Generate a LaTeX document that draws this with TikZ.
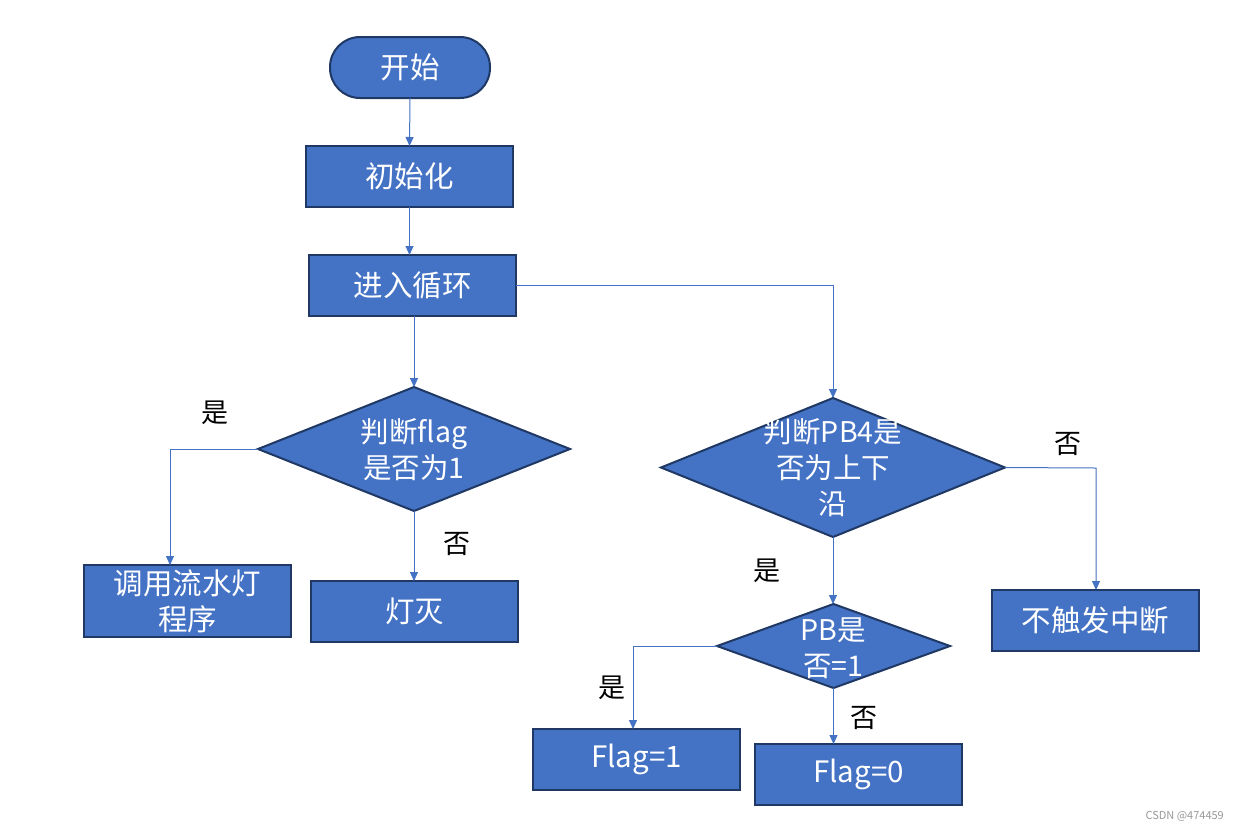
\documentclass[tikz,border=0pt]{standalone}
\usepackage{fontspec}
\setmainfont{Noto Sans CJK SC}
\usetikzlibrary{shapes.geometric,arrows.meta}
\definecolor{bfill}{HTML}{4472C4}
\definecolor{bline}{HTML}{1F3864}
\definecolor{aline}{HTML}{4472C4}
\tikzset{
  boxbase/.style={fill=bfill, draw=bline, line width=2pt, text=white, inner sep=0pt, outer sep=0pt,
    font=\fontsize{29.5}{36}\selectfont, align=center},
  procbox/.style={boxbase, rectangle, minimum width=207pt, minimum height=61pt},
  startbox/.style={boxbase, rectangle, rounded corners=30pt, minimum width=160pt, minimum height=61pt},
  decbox/.style={boxbase, diamond, aspect=2.5},
  dtext/.style={text=white, font=\fontsize{28.5}{36}\selectfont, align=center, inner sep=0pt},
  conn/.style={draw=aline, line width=1pt, -{Triangle[width=8pt,length=9pt]}},
  lab/.style={font=\fontsize{27}{30}\selectfont, text=black, inner sep=0pt}
}
\begin{document}
\begin{tikzpicture}[x=1pt,y=-1pt]
\fill[white] (0,0) rectangle (1238,831);
\path[use as bounding box] (0,0) rectangle (1238,831);

\node[startbox] (start) at (410,67.5) {开始};
\node[procbox] (init) at (409.5,176.5) {初始化};
\node[procbox] (loop) at (412.5,285.5) {进入循环};

\node[decbox, minimum width=312pt, minimum height=124pt] (d1) at (414,449) {};
\node[dtext] (d1t) at (414,450) {判断flag\\是否为1};

\node[decbox, minimum width=344pt, minimum height=139pt] (d2) at (833,467.5) {};
\node[dtext] (d2t) at (833,468) {判断PB4是\\否为上下\\沿};

\node[procbox, minimum height=72pt] (call) at (187.5,601) {调用流水灯\\程序};
\node[procbox] (off) at (414.5,611.5) {灯灭};
\node[procbox] (noint) at (1095.5,620.5) {不触发中断};

\node[decbox, minimum width=233pt, minimum height=84pt] (d3) at (833.5,646) {};
\node[dtext] (d3t) at (833.5,648) {PB是\\否=1};

\node[procbox] (f1) at (636.5,759.5) {Flag=1};
\node[procbox] (f0) at (858.5,774.5) {Flag=0};

\coordinate (c1) at (170,449);
\coordinate (c2) at (833,285.5);
\coordinate (c3) at (1096,468);
\coordinate (c4) at (633,646);

\draw[conn] (start.south) -- (init.north);
\draw[conn] (init.south) -- (loop.north -| init.south);
\draw[conn] (loop.south -| d1.north) -- (d1.north);
\draw[conn] (loop.east) -- (c2) -- (d2.north);
\draw[conn] (d1.west) -- (c1) -- (c1 |- call.north);
\draw[conn] (d1.south) -- (d1.south |- off.north);
\draw[conn] (d2.east) -- (c3) -- (c3 |- noint.north);
\draw[conn] (d2.south) -- (d3.north -| d2.south);
\draw[conn] (d3.west) -- (c4) -- (c4 |- f1.north);
\draw[conn] (d3.south) -- (d3.south |- f0.north);

\node[lab] (l1) at (215,413) {是};
\node[lab] (l2) at (457,544) {否};
\node[lab] (l3) at (1068,444) {否};
\node[lab] (l4) at (767,571) {是};
\node[lab] (l5) at (612,688) {是};
\node[lab] (l6) at (864,718) {否};

\node[font=\fontsize{11}{13}\selectfont, text=gray!80, anchor=east, inner sep=0pt] (wm) at (1224,816) {CSDN @474459};
\end{tikzpicture}
\end{document}
